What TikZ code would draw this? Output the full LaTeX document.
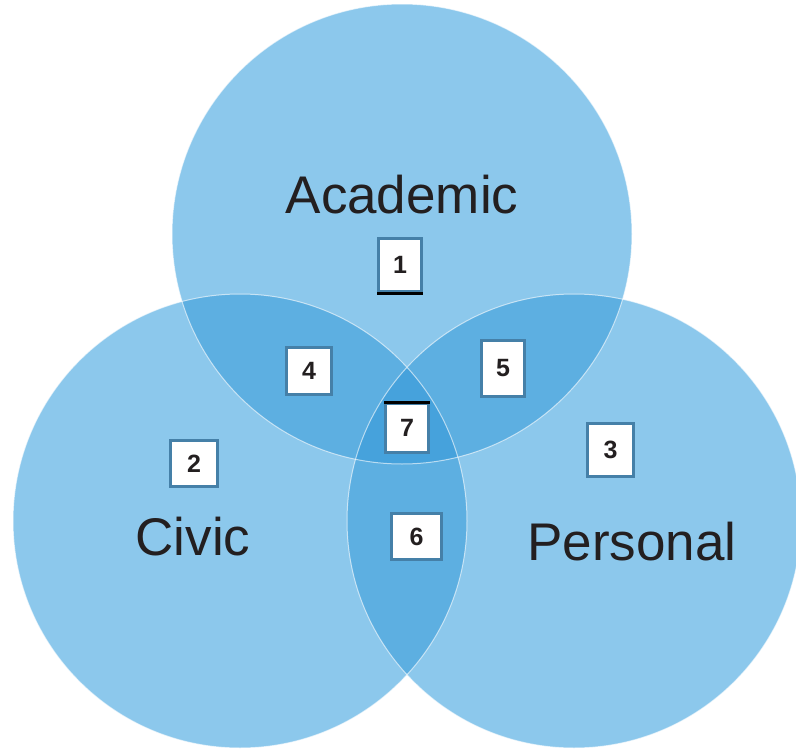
\documentclass[tikz,border=0pt]{standalone}
\usepackage{fontspec}
\setmainfont{Liberation Sans}
\begin{document}
\begin{tikzpicture}[x=1pt,y=-1pt]
\definecolor{base}{HTML}{8CC8EC}
\definecolor{pair}{HTML}{5DAFE1}
\definecolor{triple}{HTML}{46A2DC}
\definecolor{boxedge}{HTML}{4580A8}
\definecolor{ink}{HTML}{231F20}
\tikzset{
  numbox/.style={draw=boxedge, line width=3pt, fill=white, inner sep=0pt,
    font=\fontsize{25}{25}\selectfont\bfseries, text=ink},
  setlabel/.style={font=\fontsize{53}{53}\selectfont, text=ink, anchor=base},
  rim/.style={draw=white, draw opacity=0.6, line width=1pt}
}
\useasboundingbox (0,0) rectangle (796,755);
\clip (0,0) rectangle (796,755);
\coordinate (cT) at (402,234);
\coordinate (cL) at (240,521);
\coordinate (cR) at (574,521);
% base circles
\fill[base] (cT) circle (230pt);
\fill[base] (cL) circle (227pt);
\fill[base] (cR) circle (227pt);
% pairwise overlaps
\begin{scope}
  \clip (cT) circle (230pt);
  \fill[pair] (cL) circle (227pt);
  \fill[pair] (cR) circle (227pt);
\end{scope}
\begin{scope}
  \clip (cL) circle (227pt);
  \fill[pair] (cR) circle (227pt);
\end{scope}
% triple overlap
\begin{scope}
  \clip (cT) circle (230pt);
  \clip (cL) circle (227pt);
  \fill[triple] (cR) circle (227pt);
\end{scope}
% rims
\draw[rim] (cT) circle (230pt);
\draw[rim] (cL) circle (227pt);
\draw[rim] (cR) circle (227pt);
% labels
\node[setlabel] (academic) at (402,213) {Academic};
\node[setlabel] (civic) at (193,555) {Civic};
\node[setlabel] (personal) at (632,560) {Personal};
% number boxes
\node[numbox, minimum width=43pt, minimum height=53pt] (n1) at (400,265) {1};
\node[numbox, minimum width=47pt, minimum height=46pt] (n2) at (194,463.5) {2};
\node[numbox, minimum width=46pt, minimum height=53pt] (n3) at (610.5,450) {3};
\node[numbox, minimum width=45pt, minimum height=47pt] (n4) at (309,371) {4};
\node[numbox, minimum width=43pt, minimum height=56pt] (n5) at (503,368.5) {5};
\node[numbox, minimum width=50pt, minimum height=46pt] (n6) at (416.5,536.5) {6};
\node[numbox, minimum width=43pt, minimum height=49pt] (n7) at (407,428) {7};
\draw[black, line width=3pt] (n1.south west) -- (n1.south east);
\draw[black, line width=3pt] (n7.north west) -- (n7.north east);
\end{tikzpicture}
\end{document}
